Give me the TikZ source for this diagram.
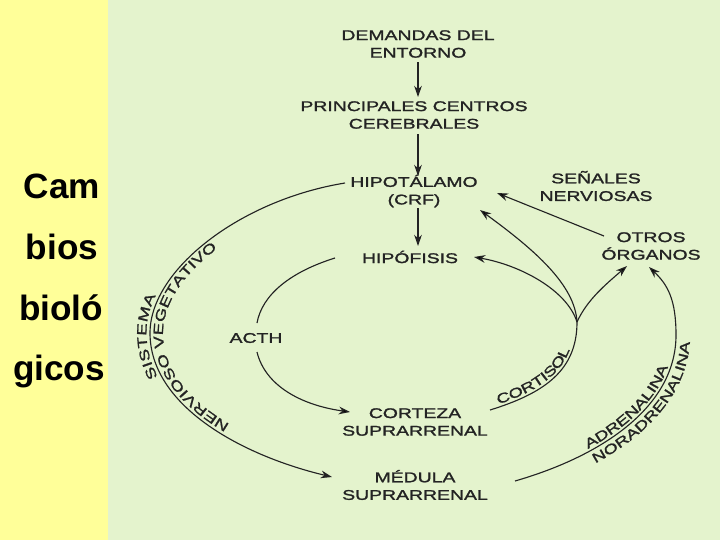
\documentclass[tikz,border=0pt]{standalone}
\usepackage{fontspec}
\setmainfont{Liberation Sans}
\newfontfamily\diag[FakeStretch=1.38,FakeBold=1.5]{Liberation Sans}
\usetikzlibrary{arrows.meta,decorations.text}
\definecolor{ybg}{RGB}{255,255,153}
\definecolor{gbg}{RGB}{228,243,205}
\definecolor{ink}{RGB}{35,35,35}
\newcommand{\dfont}{\diag\fontsize{10}{12.5}\selectfont}
\newcommand{\cfont}{\diag\fontsize{9.6}{11}\selectfont}
\begin{document}
\begin{tikzpicture}[x=0.025cm,y=-0.025cm,
  lbl/.style={font=\dfont, align=center, text=ink, inner sep=1pt},
  conn/.style={draw=ink, line width=0.8pt, -{Stealth[length=8pt,width=5.5pt]}},
  plain/.style={draw=ink, line width=0.8pt},
  sidetxt/.style={font=\bfseries\fontsize{25}{30}\selectfont, anchor=base, text=black},
  curvtxt/.style={decorate, decoration={text along path, text color=ink}}]
\useasboundingbox (0,0) rectangle (720,540);
\fill[ybg] (0,0) rectangle (108,540);
\fill[gbg] (108,0) rectangle (720,540);
% side title
\node[sidetxt] (t1) at (62,198) {Cam};
\node[sidetxt] (t2) at (62,259) {bios};
\node[sidetxt] (t3) at (61,320) {bioló};
\node[sidetxt] (t4) at (59,380) {gicos};
% nodes
\node[lbl] (dem) at (418,44) {DEMANDAS DEL\\ENTORNO};
\node[lbl] (pcc) at (414,115) {PRINCIPALES CENTROS\\CEREBRALES};
\node[lbl] (hip) at (414,191) {HIPOTÁLAMO\\(CRF)};
\node[lbl] (hipo) at (410,257) {HIPÓFISIS};
\node[lbl] (acth) at (256,338) {ACTH};
\node[lbl] (cort) at (415,422) {CORTEZA\\SUPRARRENAL};
\node[lbl] (med) at (415,485) {MÉDULA\\SUPRARRENAL};
\node[lbl] (sen) at (596,186) {SEÑALES\\NERVIOSAS};
\node[lbl] (otr) at (651,246) {OTROS\\ÓRGANOS};
% vertical arrows
\draw[conn] (418,62) coordinate (v1a) -- (418,97) coordinate (v1b);
\draw[conn] (418,134) coordinate (v2a) -- (418,176) coordinate (v2b);
\draw[conn] (418,208) coordinate (v3a) -- (418,246) coordinate (v3b);
% outer curve (sistema nervioso vegetativo)
\coordinate (S) at (345,183);
\coordinate (L) at (150,333);
\coordinate (E) at (332,477);
\draw[conn] (S) .. controls (240,200) and (150,270) .. (L) .. controls (150,405) and (240,455) .. (E);
\path[curvtxt, decoration={raise=2.5pt, text align={left indent=145pt}, text={|\cfont|SISTEMA}}]
  (E) .. controls (240,455) and (150,405) .. (L) .. controls (150,270) and (240,200) .. (S);
% inner offset path for inner label
\coordinate (Ei) at (333,464);
\coordinate (Li) at (163,333);
\coordinate (Si) at (347,196);
\path[curvtxt, decoration={raise=0pt, text align={left indent=79pt}, text={|\cfont|NERVIOSO VEGETATIVO}}]
  (Ei) .. controls (244,442) and (163,398) .. (Li) .. controls (163,275) and (246,212) .. (Si);
% ACTH curve
\coordinate (I1) at (335,258);
\coordinate (I2) at (257,323);
\coordinate (I3) at (257,352);
\coordinate (I4) at (350,412);
\draw[plain] (I1) .. controls (290,272) and (262,295) .. (I2);
\draw[conn] (I3) .. controls (265,385) and (300,405) .. (I4);
% cortisol
\coordinate (Co) at (490,410);
\coordinate (C) at (577,322);
\draw[plain] (Co) .. controls (545,393) and (577,370) .. (C);
\path[curvtxt, decoration={raise=2pt, text align={left indent=7pt}, text={|\cfont|CORTISOL}}]
  (Co) .. controls (545,393) and (577,370) .. (C);
\coordinate (H1) at (474,257);
\coordinate (H2) at (480,210);
\coordinate (O1) at (627,266);
\draw[conn] (C) .. controls (567,290) and (520,265) .. (H1);
\draw[conn] (C) .. controls (575,285) and (535,250) .. (H2);
\draw[conn] (C) .. controls (587,300) and (605,285) .. (O1);
% senales
\coordinate (N1) at (604,236);
\coordinate (N2) at (497,193);
\draw[conn] (N1) -- (N2);
% adrenalina
\coordinate (A0) at (515,481);
\coordinate (A1) at (676,335);
\coordinate (A2) at (649,267);
\draw[conn] (A0) .. controls (605,455) and (676,405) .. (A1) .. controls (676,300) and (668,285) .. (A2);
\path[curvtxt, decoration={raise=2pt, text align={left indent=57pt}, text={|\cfont|ADRENALINA}}]
  (A0) .. controls (605,455) and (676,405) .. (A1) .. controls (676,300) and (668,285) .. (A2);
\coordinate (A0o) at (520,494);
\coordinate (A1o) at (690,335);
\path[curvtxt, decoration={raise=0pt, text align={left indent=58pt}, text={|\cfont|NORADRENALINA}}]
  (A0o) .. controls (612,467) and (690,412) .. (A1o);
\end{tikzpicture}
\end{document}
